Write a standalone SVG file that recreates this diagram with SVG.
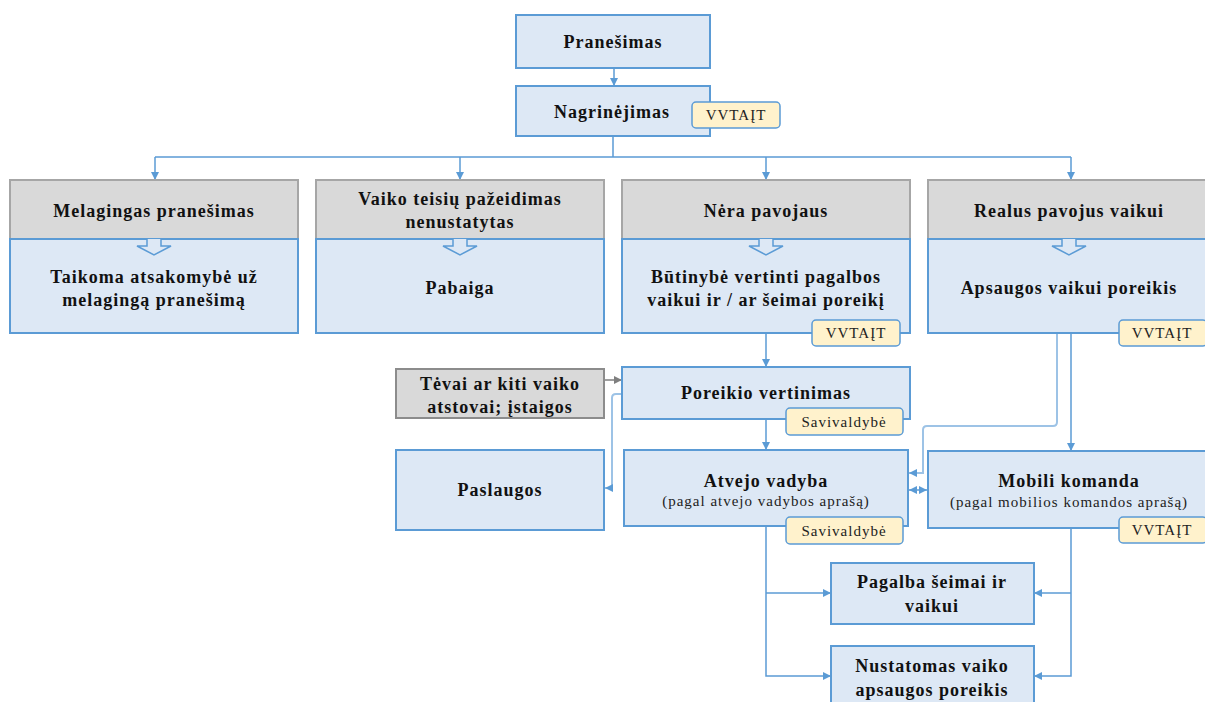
<svg xmlns="http://www.w3.org/2000/svg" width="1205" height="702" viewBox="0 0 1205 702">
<style>
.box{fill:#dde8f5;stroke:#5b9bd5;stroke-width:2}
.hdr{fill:#d9d9d9;stroke:#a6a6a6;stroke-width:2}
.gbox{fill:#d9d9d9;stroke:#8c8c8c;stroke-width:2}
.badge{fill:#fff2cc;stroke:#5b9bd5;stroke-width:1.5}
.t{font-family:"Liberation Serif","Times New Roman",serif;font-weight:bold;font-size:18px;letter-spacing:1px;fill:#111;text-anchor:middle}
.s{font-family:"Liberation Serif","Times New Roman",serif;font-size:15px;letter-spacing:1px;fill:#222;text-anchor:middle}
.bt{font-family:"Liberation Serif","Times New Roman",serif;font-size:15px;letter-spacing:1px;fill:#222;text-anchor:middle}
.c{fill:none;stroke:#5b9bd5;stroke-width:1.5}
.cl{fill:none;stroke:#9dc3e6;stroke-width:2}
.cg{fill:none;stroke:#7f7f7f;stroke-width:1.5}
.ha{fill:#dde8f5;stroke:#5b9bd5;stroke-width:1.5}
</style>
<defs>
<marker id="a" viewBox="0 0 10 10" refX="10" refY="5" markerWidth="8" markerHeight="8" markerUnits="userSpaceOnUse" orient="auto-start-reverse"><path d="M0,0 L10,5 L0,10 z" fill="#5b9bd5"/></marker>
<marker id="g" viewBox="0 0 10 10" refX="10" refY="5" markerWidth="8" markerHeight="8" markerUnits="userSpaceOnUse" orient="auto"><path d="M0,0 L10,5 L0,10 z" fill="#7f7f7f"/></marker>
</defs>
<rect width="1205" height="702" fill="#fff"/>

<g id="connectors">
<path class="c" d="M614,68 V86" marker-end="url(#a)"/>
<path class="c" d="M613,136 V157 M155,157 H1071"/>
<path class="c" d="M155,157 V180" marker-end="url(#a)"/>
<path class="c" d="M460,157 V180" marker-end="url(#a)"/>
<path class="c" d="M766,157 V180" marker-end="url(#a)"/>
<path class="c" d="M1071,157 V180" marker-end="url(#a)"/>
<path class="c" d="M766,333 V367" marker-end="url(#a)"/>
<path class="c" d="M766,419 V450" marker-end="url(#a)"/>
<path class="cg" d="M604,380 H622" marker-end="url(#g)"/>
<path class="cl" d="M622,394 H616 Q612,394 612,398 V488 H605" marker-end="url(#a)"/>
<path class="cl" d="M1057,333 V422 Q1057,426 1053,426 H927 Q923,426 923,430 V473 H909" marker-end="url(#a)"/>
<path class="c" d="M1071,333 V451" marker-end="url(#a)"/>
<path class="c" d="M909,490 H927" marker-start="url(#a)" marker-end="url(#a)"/>
<path class="c" d="M766,526 V676 H831" marker-end="url(#a)"/>
<path class="c" d="M766,593 H831" marker-end="url(#a)"/>
<path class="c" d="M1071,528 V676 H1034" marker-end="url(#a)"/>
<path class="c" d="M1071,593 H1034" marker-end="url(#a)"/>
</g>

<g id="pranesimas">
<rect class="box" x="516" y="15" width="194" height="53"/>
<text class="t" x="613" y="48">Pranešimas</text>
</g>

<g id="nagrinejimas">
<rect class="box" x="516" y="86" width="194" height="50"/>
<text class="t" x="612" y="118">Nagrinėjimas</text>
<rect class="badge" x="692" y="102" width="88" height="26" rx="4"/>
<text class="bt" x="736" y="120">VVTAĮT</text>
</g>

<g id="melagingas">
<rect class="hdr" x="10" y="180" width="288" height="59"/>
<rect class="box" x="10" y="239" width="288" height="94"/>
<path class="ha" d="M147,239 V246 H137 L154,255 L171,246 H161 V239"/>
<text class="t" x="154" y="217">Melagingas pranešimas</text>
<text class="t" x="154" y="283">Taikoma atsakomybė už</text>
<text class="t" x="154" y="306">melagingą pranešimą</text>
</g>

<g id="vaiko-teisiu">
<rect class="hdr" x="316" y="180" width="288" height="59"/>
<rect class="box" x="316" y="239" width="288" height="94"/>
<path class="ha" d="M453,239 V246 H443 L460,255 L477,246 H467 V239"/>
<text class="t" x="460" y="205">Vaiko teisių pažeidimas</text>
<text class="t" x="460" y="228">nenustatytas</text>
<text class="t" x="460" y="294">Pabaiga</text>
</g>

<g id="nera-pavojaus">
<rect class="hdr" x="622" y="180" width="288" height="59"/>
<rect class="box" x="622" y="239" width="288" height="94"/>
<path class="ha" d="M759,239 V246 H749 L766,255 L783,246 H773 V239"/>
<text class="t" x="766" y="217">Nėra pavojaus</text>
<text class="t" x="766" y="283">Būtinybė vertinti pagalbos</text>
<text class="t" x="766" y="306">vaikui ir / ar šeimai poreikį</text>
<rect class="badge" x="812" y="320" width="88" height="26" rx="4"/>
<text class="bt" x="856" y="338">VVTAĮT</text>
</g>

<g id="realus-pavojus">
<rect class="hdr" x="928" y="180" width="288" height="59"/>
<rect class="box" x="928" y="239" width="288" height="94"/>
<path class="ha" d="M1062,239 V246 H1052 L1069,255 L1086,246 H1076 V239"/>
<text class="t" x="1069" y="217">Realus pavojus vaikui</text>
<text class="t" x="1069" y="294">Apsaugos vaikui poreikis</text>
<rect class="badge" x="1119" y="320" width="88" height="26" rx="4"/>
<text class="bt" x="1162" y="338">VVTAĮT</text>
</g>

<g id="tevai">
<rect class="gbox" x="396" y="369" width="208" height="49"/>
<text class="t" x="500" y="390">Tėvai ar kiti vaiko</text>
<text class="t" x="500" y="413">atstovai; įstaigos</text>
</g>

<g id="poreikio-vertinimas">
<rect class="box" x="622" y="367" width="288" height="52"/>
<text class="t" x="766" y="399">Poreikio vertinimas</text>
<rect class="badge" x="786" y="408" width="117" height="27" rx="4"/>
<text class="s" x="844" y="427">Savivaldybė</text>
</g>

<g id="paslaugos">
<rect class="box" x="396" y="450" width="208" height="80"/>
<text class="t" x="500" y="496">Paslaugos</text>
</g>

<g id="atvejo-vadyba">
<rect class="box" x="624" y="450" width="284" height="76"/>
<text class="t" x="766" y="487">Atvejo vadyba</text>
<text class="s" x="766" y="506">(pagal atvejo vadybos aprašą)</text>
<rect class="badge" x="786" y="517" width="117" height="27" rx="4"/>
<text class="s" x="844" y="536">Savivaldybė</text>
</g>

<g id="mobili-komanda">
<rect class="box" x="928" y="451" width="288" height="77"/>
<text class="t" x="1069" y="487">Mobili komanda</text>
<text class="s" x="1069" y="507">(pagal mobilios komandos aprašą)</text>
<rect class="badge" x="1119" y="517" width="88" height="26" rx="4"/>
<text class="bt" x="1162" y="535">VVTAĮT</text>
</g>

<g id="pagalba">
<rect class="box" x="831" y="563" width="203" height="61"/>
<text class="t" x="932" y="588">Pagalba šeimai ir</text>
<text class="t" x="932" y="612">vaikui</text>
</g>

<g id="nustatomas">
<rect class="box" x="831" y="646" width="203" height="66"/>
<text class="t" x="932" y="672">Nustatomas vaiko</text>
<text class="t" x="932" y="696">apsaugos poreikis</text>
</g>
</svg>
